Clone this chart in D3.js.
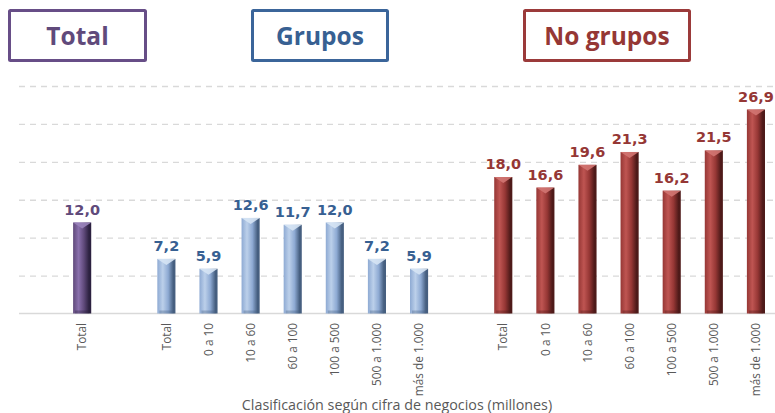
<!DOCTYPE html>
<html>
<head>
<meta charset="utf-8">
<script src="https://cdn.jsdelivr.net/npm/d3@7"></script>
<style>
  html, body { margin: 0; padding: 0; background: #ffffff; }
  svg { display: block; }
</style>
</head>
<body>
<svg id="chart" width="775" height="413"></svg>
<script>
// ---- data ----
const totalCats = ["Total"];
const totalValues = [12.0];
const groupCats = ["Total", "0 a 10", "10 a 60", "60 a 100", "100 a 500", "500 a 1.000", "más de 1.000"];
const groupValues = [7.2, 5.9, 12.6, 11.7, 12.0, 7.2, 5.9];
const noGroupCats = ["Total", "0 a 10", "10 a 60", "60 a 100", "100 a 500", "500 a 1.000", "más de 1.000"];
const noGroupValues = [18.0, 16.6, 19.6, 21.3, 16.2, 21.5, 26.9];
const yTicks = [5, 10, 15, 20, 25, 30];
const headers = ["Total", "Grupos", "No grupos"];
const xTitle = "Clasificación según cifra de negocios (millones)";

// ---- styles ----
const themes = {
  total: { base: "#5f497a", light: "#8a70ad", dark: "#2c2140", cap: "#9a84bb", label: "#604a7b", box: "#674e87" },
  grupos: { base: "#8eaad3", light: "#bcd0ea", dark: "#465f80", cap: "#d6e4f4", label: "#376092", box: "#3b659a" },
  nogrupos: { base: "#963735", light: "#bf5552", dark: "#4e1a19", cap: "#d27572", label: "#953735", box: "#9b3a3a" }
};

// ---- build slot list ----
const slots = [];
slots.push({ key: "e0", empty: true });
totalCats.forEach((c, i) => slots.push({ key: "T" + i, label: c, value: totalValues[i], theme: "total" }));
slots.push({ key: "e1", empty: true });
groupCats.forEach((c, i) => slots.push({ key: "G" + i, label: c, value: groupValues[i], theme: "grupos" }));
slots.push({ key: "e2", empty: true });
noGroupCats.forEach((c, i) => slots.push({ key: "N" + i, label: c, value: noGroupValues[i], theme: "nogrupos" }));

const svg = d3.select("#chart");
const left = 19, right = 777, baseY = 313.5, topY = 86;

const x = d3.scaleBand().domain(slots.map(d => d.key)).range([left, right]).paddingInner(0.57).paddingOuter(0.285);
const y = d3.scaleLinear().domain([0, 30]).range([baseY, topY]);

// gradients
const defs = svg.append("defs");
Object.entries(themes).forEach(([k, t]) => {
  const g = defs.append("linearGradient").attr("id", "grad-" + k).attr("x1", "0").attr("x2", "1").attr("y1", "0").attr("y2", "0");
  g.append("stop").attr("offset", "0%").attr("stop-color", t.base);
  g.append("stop").attr("offset", "30%").attr("stop-color", t.light);
  g.append("stop").attr("offset", "60%").attr("stop-color", t.base);
  g.append("stop").attr("offset", "88%").attr("stop-color", t.dark);
  g.append("stop").attr("offset", "100%").attr("stop-color", t.dark);
});

// gridlines
const yAxis = d3.axisLeft(y).tickValues(yTicks).tickSize(-(775 - left)).tickFormat("");
const gy = svg.append("g").attr("transform", `translate(${left},0)`).call(yAxis);
gy.select(".domain").remove();
gy.selectAll(".tick line").attr("stroke", "#d9d9d9").attr("stroke-width", 1.3).attr("stroke-dasharray", "6,5");

// baseline
svg.append("line").attr("x1", left).attr("x2", 775).attr("y1", baseY).attr("y2", baseY)
  .attr("stroke", "#d9d9d9").attr("stroke-width", 1.5);

const bars = slots.filter(d => !d.empty);
const bw = x.bandwidth();

// bars
const bg = svg.append("g");
bg.selectAll("rect.bar").data(bars).enter().append("rect")
  .attr("class", "bar")
  .attr("x", d => x(d.key))
  .attr("y", d => y(d.value))
  .attr("width", bw)
  .attr("height", d => baseY - y(d.value))
  .attr("fill", d => `url(#grad-${d.theme})`);

// top bevel caps
bg.selectAll("path.cap").data(bars).enter().append("path")
  .attr("class", "cap")
  .attr("d", d => {
    const x0 = x(d.key), x1 = x0 + bw, t = y(d.value), cx = x0 + bw / 2;
    return `M${x0},${t} L${x1},${t} L${x1 - 3},${t + 2} L${cx},${t + 6} L${x0 + 3},${t + 2} Z`;
  })
  .attr("fill", d => themes[d.theme].cap)
  .attr("opacity", 0.9);

// bottom shading
bg.selectAll("rect.bot").data(bars).enter().append("rect")
  .attr("class", "bot")
  .attr("x", d => x(d.key) + 2)
  .attr("y", baseY - 3)
  .attr("width", bw - 4)
  .attr("height", 3)
  .attr("fill", d => themes[d.theme].dark)
  .attr("opacity", 0.35);

// value labels
const fmt = v => d3.format(".1f")(v).replace(".", ",");
svg.append("g").selectAll("text").data(bars).enter().append("text")
  .attr("x", d => x(d.key) + bw / 2)
  .attr("y", d => y(d.value) - 8)
  .attr("text-anchor", "middle")
  .attr("font-family", "DejaVu Sans, Verdana, sans-serif")
  .attr("font-weight", "bold")
  .attr("font-size", "14.5px")
  .attr("fill", d => themes[d.theme].label)
  .text(d => fmt(d.value));

// category labels (rotated)
svg.append("g").selectAll("text").data(bars).enter().append("text")
  .attr("transform", d => `translate(${x(d.key) + bw / 2},323) rotate(-90)`)
  .attr("dy", "0.35em")
  .attr("text-anchor", "end")
  .attr("font-family", "Open Sans, sans-serif")
  .attr("font-size", "11.8px")
  .attr("fill", "#595959")
  .text(d => d.label);

// x title
svg.append("text")
  .attr("x", 397).attr("y", 410)
  .attr("text-anchor", "middle")
  .attr("font-family", "Open Sans, sans-serif")
  .attr("font-size", "14.3px")
  .attr("fill", "#595959")
  .text(xTitle);

// header boxes
const headerBoxes = [
  { text: headers[0], x0: 9.5, x1: 145.5, theme: "total" },
  { text: headers[1], x0: 252.5, x1: 387.5, theme: "grupos" },
  { text: headers[2], x0: 524.5, x1: 689.5, theme: "nogrupos" }
];
const hg = svg.append("g").selectAll("g").data(headerBoxes).enter().append("g");
hg.append("rect")
  .attr("x", d => d.x0).attr("y", 10.5)
  .attr("width", d => d.x1 - d.x0).attr("height", 50)
  .attr("fill", "none")
  .attr("stroke", d => themes[d.theme].box)
  .attr("stroke-width", 3)
  .attr("rx", 1);
hg.append("text")
  .attr("x", d => (d.x0 + d.x1) / 2).attr("y", 45)
  .attr("text-anchor", "middle")
  .attr("font-family", "Open Sans, sans-serif")
  .attr("font-weight", "bold")
  .attr("font-size", "24.5px")
  .attr("fill", d => themes[d.theme].label)
  .text(d => d.text);
</script>
</body>
</html>
